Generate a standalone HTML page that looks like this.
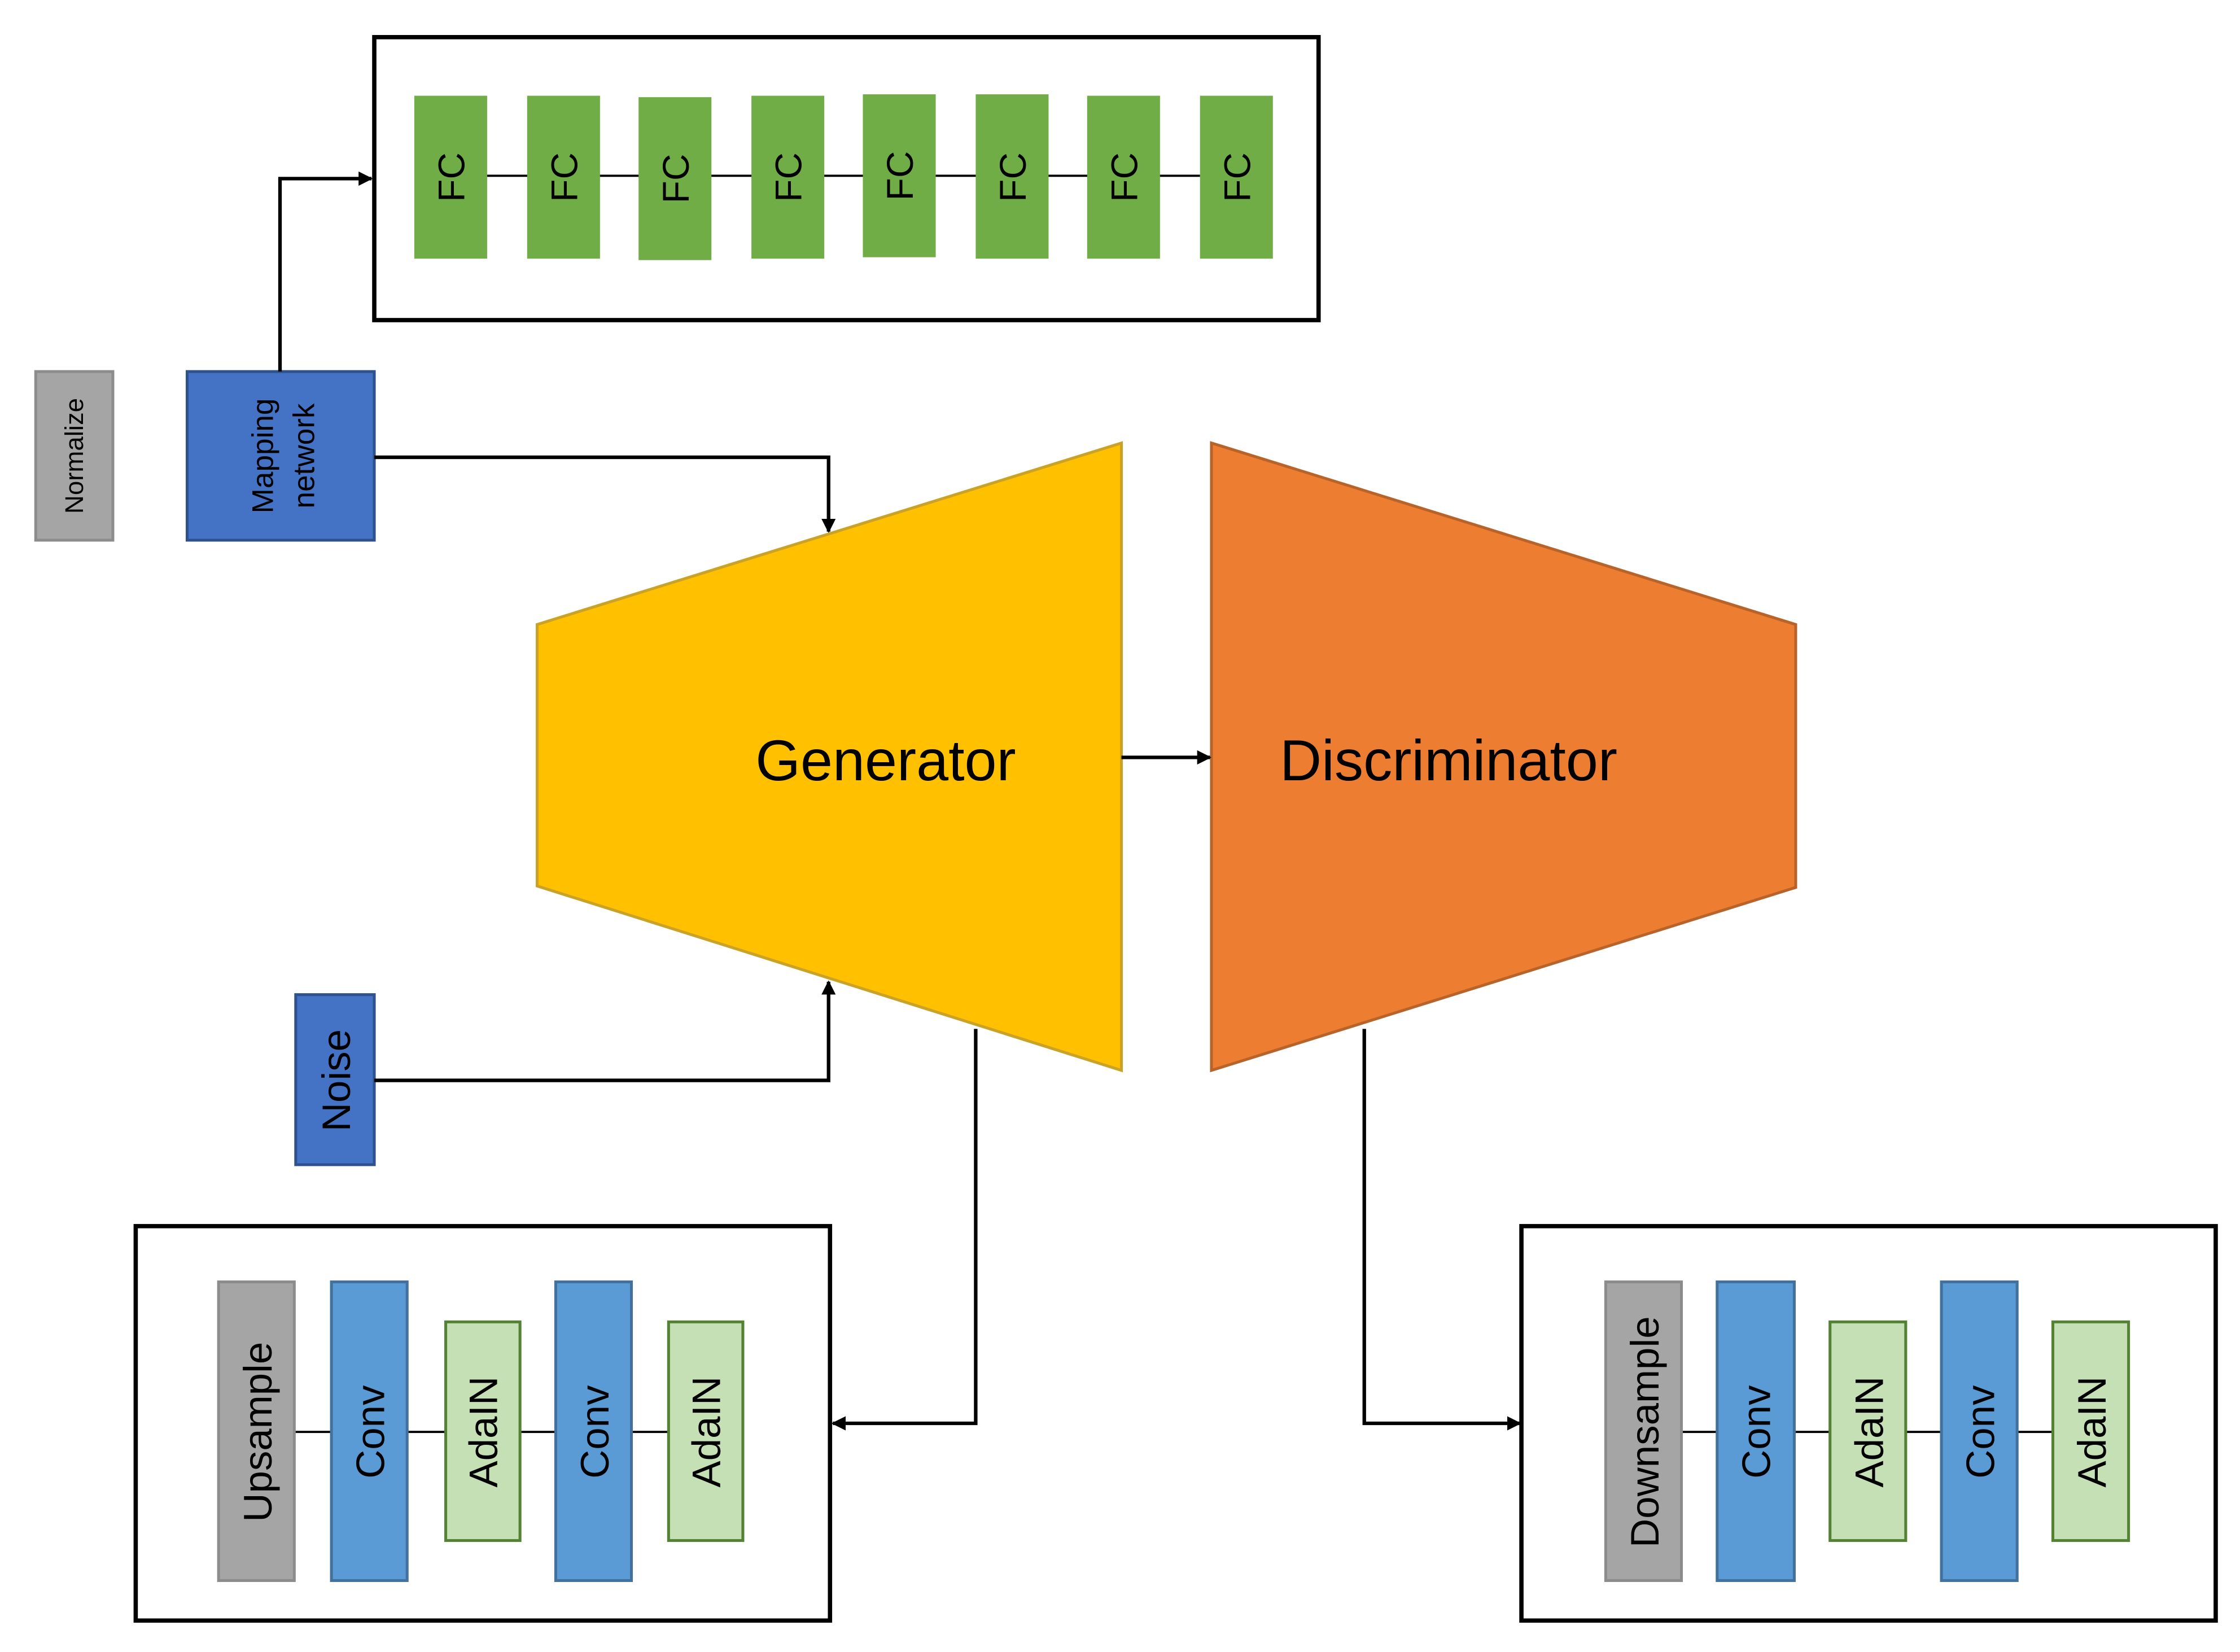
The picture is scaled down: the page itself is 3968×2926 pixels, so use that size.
<!DOCTYPE html>
<html><head><meta charset="utf-8"><style>
html,body{margin:0;padding:0;background:#fff;}
svg{display:block;}
text{font-family:"Liberation Sans",sans-serif;}
</style></head><body>
<svg width="3968" height="2926" viewBox="0 0 1568 1156" xmlns="http://www.w3.org/2000/svg" preserveAspectRatio="none">
<defs>
<marker id="ah" markerWidth="10" markerHeight="10" refX="9" refY="5" orient="auto" markerUnits="userSpaceOnUse">
<path d="M0,0 L10,5 L0,10 z" fill="#000"/></marker>
</defs>
<rect width="1568" height="1156" fill="#fff"/>

<rect x="262" y="26" width="661" height="198" fill="none" stroke="#000" stroke-width="3"/>
<line x1="340" y1="123" x2="840" y2="123" stroke="#000" stroke-width="1.5"/>
<g fill="#70AD47">
<rect x="290" y="67" width="51" height="114"/>
<rect x="369" y="67" width="51" height="114"/>
<rect x="447" y="68" width="51" height="114"/>
<rect x="526" y="67" width="51" height="114"/>
<rect x="604" y="66" width="51" height="114"/>
<rect x="683" y="66" width="51" height="115"/>
<rect x="761" y="67" width="51" height="114"/>
<rect x="840" y="67" width="51" height="114"/>
</g>
<g font-size="26" fill="#000" text-anchor="middle">
<text transform="translate(325,124) rotate(-90)">FC</text>
<text transform="translate(404,124) rotate(-90)">FC</text>
<text transform="translate(482,125) rotate(-90)">FC</text>
<text transform="translate(561,124) rotate(-90)">FC</text>
<text transform="translate(639,123) rotate(-90)">FC</text>
<text transform="translate(718,124) rotate(-90)">FC</text>
<text transform="translate(796,124) rotate(-90)">FC</text>
<text transform="translate(875,124) rotate(-90)">FC</text>
</g>

<rect x="25" y="260" width="54" height="118" fill="#A5A5A5" stroke="#8C8C8C" stroke-width="2"/>
<text transform="translate(58,319) rotate(-90)" font-size="18" text-anchor="middle">Normalize</text>

<rect x="131" y="260" width="131" height="118" fill="#4472C4" stroke="#2F528F" stroke-width="2"/>
<text transform="translate(191,319) rotate(-90)" font-size="21" text-anchor="middle">Mapping</text>
<text transform="translate(220,319) rotate(-90)" font-size="21" text-anchor="middle">network</text>

<polyline points="196,260 196,125 260,125" fill="none" stroke="#000" stroke-width="2.5" marker-end="url(#ah)"/>
<polyline points="262,320 580,320 580,372" fill="none" stroke="#000" stroke-width="2.5" marker-end="url(#ah)"/>

<polygon points="376,437 785,310 785,749 376,620" fill="#FFC000" stroke="#C9A227" stroke-width="2"/>
<text x="620" y="546" font-size="40.5" text-anchor="middle">Generator</text>
<polygon points="848,310 1257,437 1257,621 848,749" fill="#ED7D31" stroke="#B8632A" stroke-width="2"/>
<text x="1014" y="546" font-size="40.5" text-anchor="middle">Discriminator</text>
<line x1="785" y1="530" x2="847" y2="530" stroke="#000" stroke-width="2.5" marker-end="url(#ah)"/>

<rect x="207" y="696" width="55" height="119" fill="#4472C4" stroke="#2F528F" stroke-width="2"/>
<text transform="translate(245,756) rotate(-90)" font-size="28" text-anchor="middle">Noise</text>
<polyline points="262,756 580,756 580,687" fill="none" stroke="#000" stroke-width="2.5" marker-end="url(#ah)"/>

<polyline points="683,720 683,996 583,996" fill="none" stroke="#000" stroke-width="2.5" marker-end="url(#ah)"/>
<polyline points="955,720 955,996 1064,996" fill="none" stroke="#000" stroke-width="2.5" marker-end="url(#ah)"/>

<rect x="95" y="858" width="486" height="276" fill="none" stroke="#000" stroke-width="3"/>
<line x1="206" y1="1002" x2="468" y2="1002" stroke="#000" stroke-width="1.5"/>
<rect x="153" y="897" width="53" height="209" fill="#A5A5A5" stroke="#8C8C8C" stroke-width="2"/>
<rect x="232" y="897" width="53" height="209" fill="#5B9BD5" stroke="#41719C" stroke-width="2"/>
<rect x="312" y="925" width="52" height="153" fill="#C5E0B4" stroke="#548235" stroke-width="2"/>
<rect x="389" y="897" width="53" height="209" fill="#5B9BD5" stroke="#41719C" stroke-width="2"/>
<rect x="468" y="925" width="52" height="153" fill="#C5E0B4" stroke="#548235" stroke-width="2"/>
<g font-size="28" text-anchor="middle">
<text transform="translate(190,1002) rotate(-90)">Upsample</text>
<text transform="translate(269,1002) rotate(-90)">Conv</text>
<text transform="translate(348,1002) rotate(-90)">AdaIN</text>
<text transform="translate(426,1002) rotate(-90)">Conv</text>
<text transform="translate(504,1002) rotate(-90)">AdaIN</text>
</g>

<rect x="1065" y="858" width="486" height="276" fill="none" stroke="#000" stroke-width="3"/>
<line x1="1177" y1="1002" x2="1437" y2="1002" stroke="#000" stroke-width="1.5"/>
<rect x="1124" y="897" width="53" height="209" fill="#A5A5A5" stroke="#8C8C8C" stroke-width="2"/>
<rect x="1202" y="897" width="54" height="209" fill="#5B9BD5" stroke="#41719C" stroke-width="2"/>
<rect x="1281" y="925" width="53" height="153" fill="#C5E0B4" stroke="#548235" stroke-width="2"/>
<rect x="1359" y="897" width="53" height="209" fill="#5B9BD5" stroke="#41719C" stroke-width="2"/>
<rect x="1437" y="925" width="53" height="153" fill="#C5E0B4" stroke="#548235" stroke-width="2"/>
<g font-size="28" text-anchor="middle">
<text transform="translate(1161,1002) rotate(-90)">Downsample</text>
<text transform="translate(1239,1002) rotate(-90)">Conv</text>
<text transform="translate(1318,1002) rotate(-90)">AdaIN</text>
<text transform="translate(1396,1002) rotate(-90)">Conv</text>
<text transform="translate(1474,1002) rotate(-90)">AdaIN</text>
</g>
</svg>
</body></html>
